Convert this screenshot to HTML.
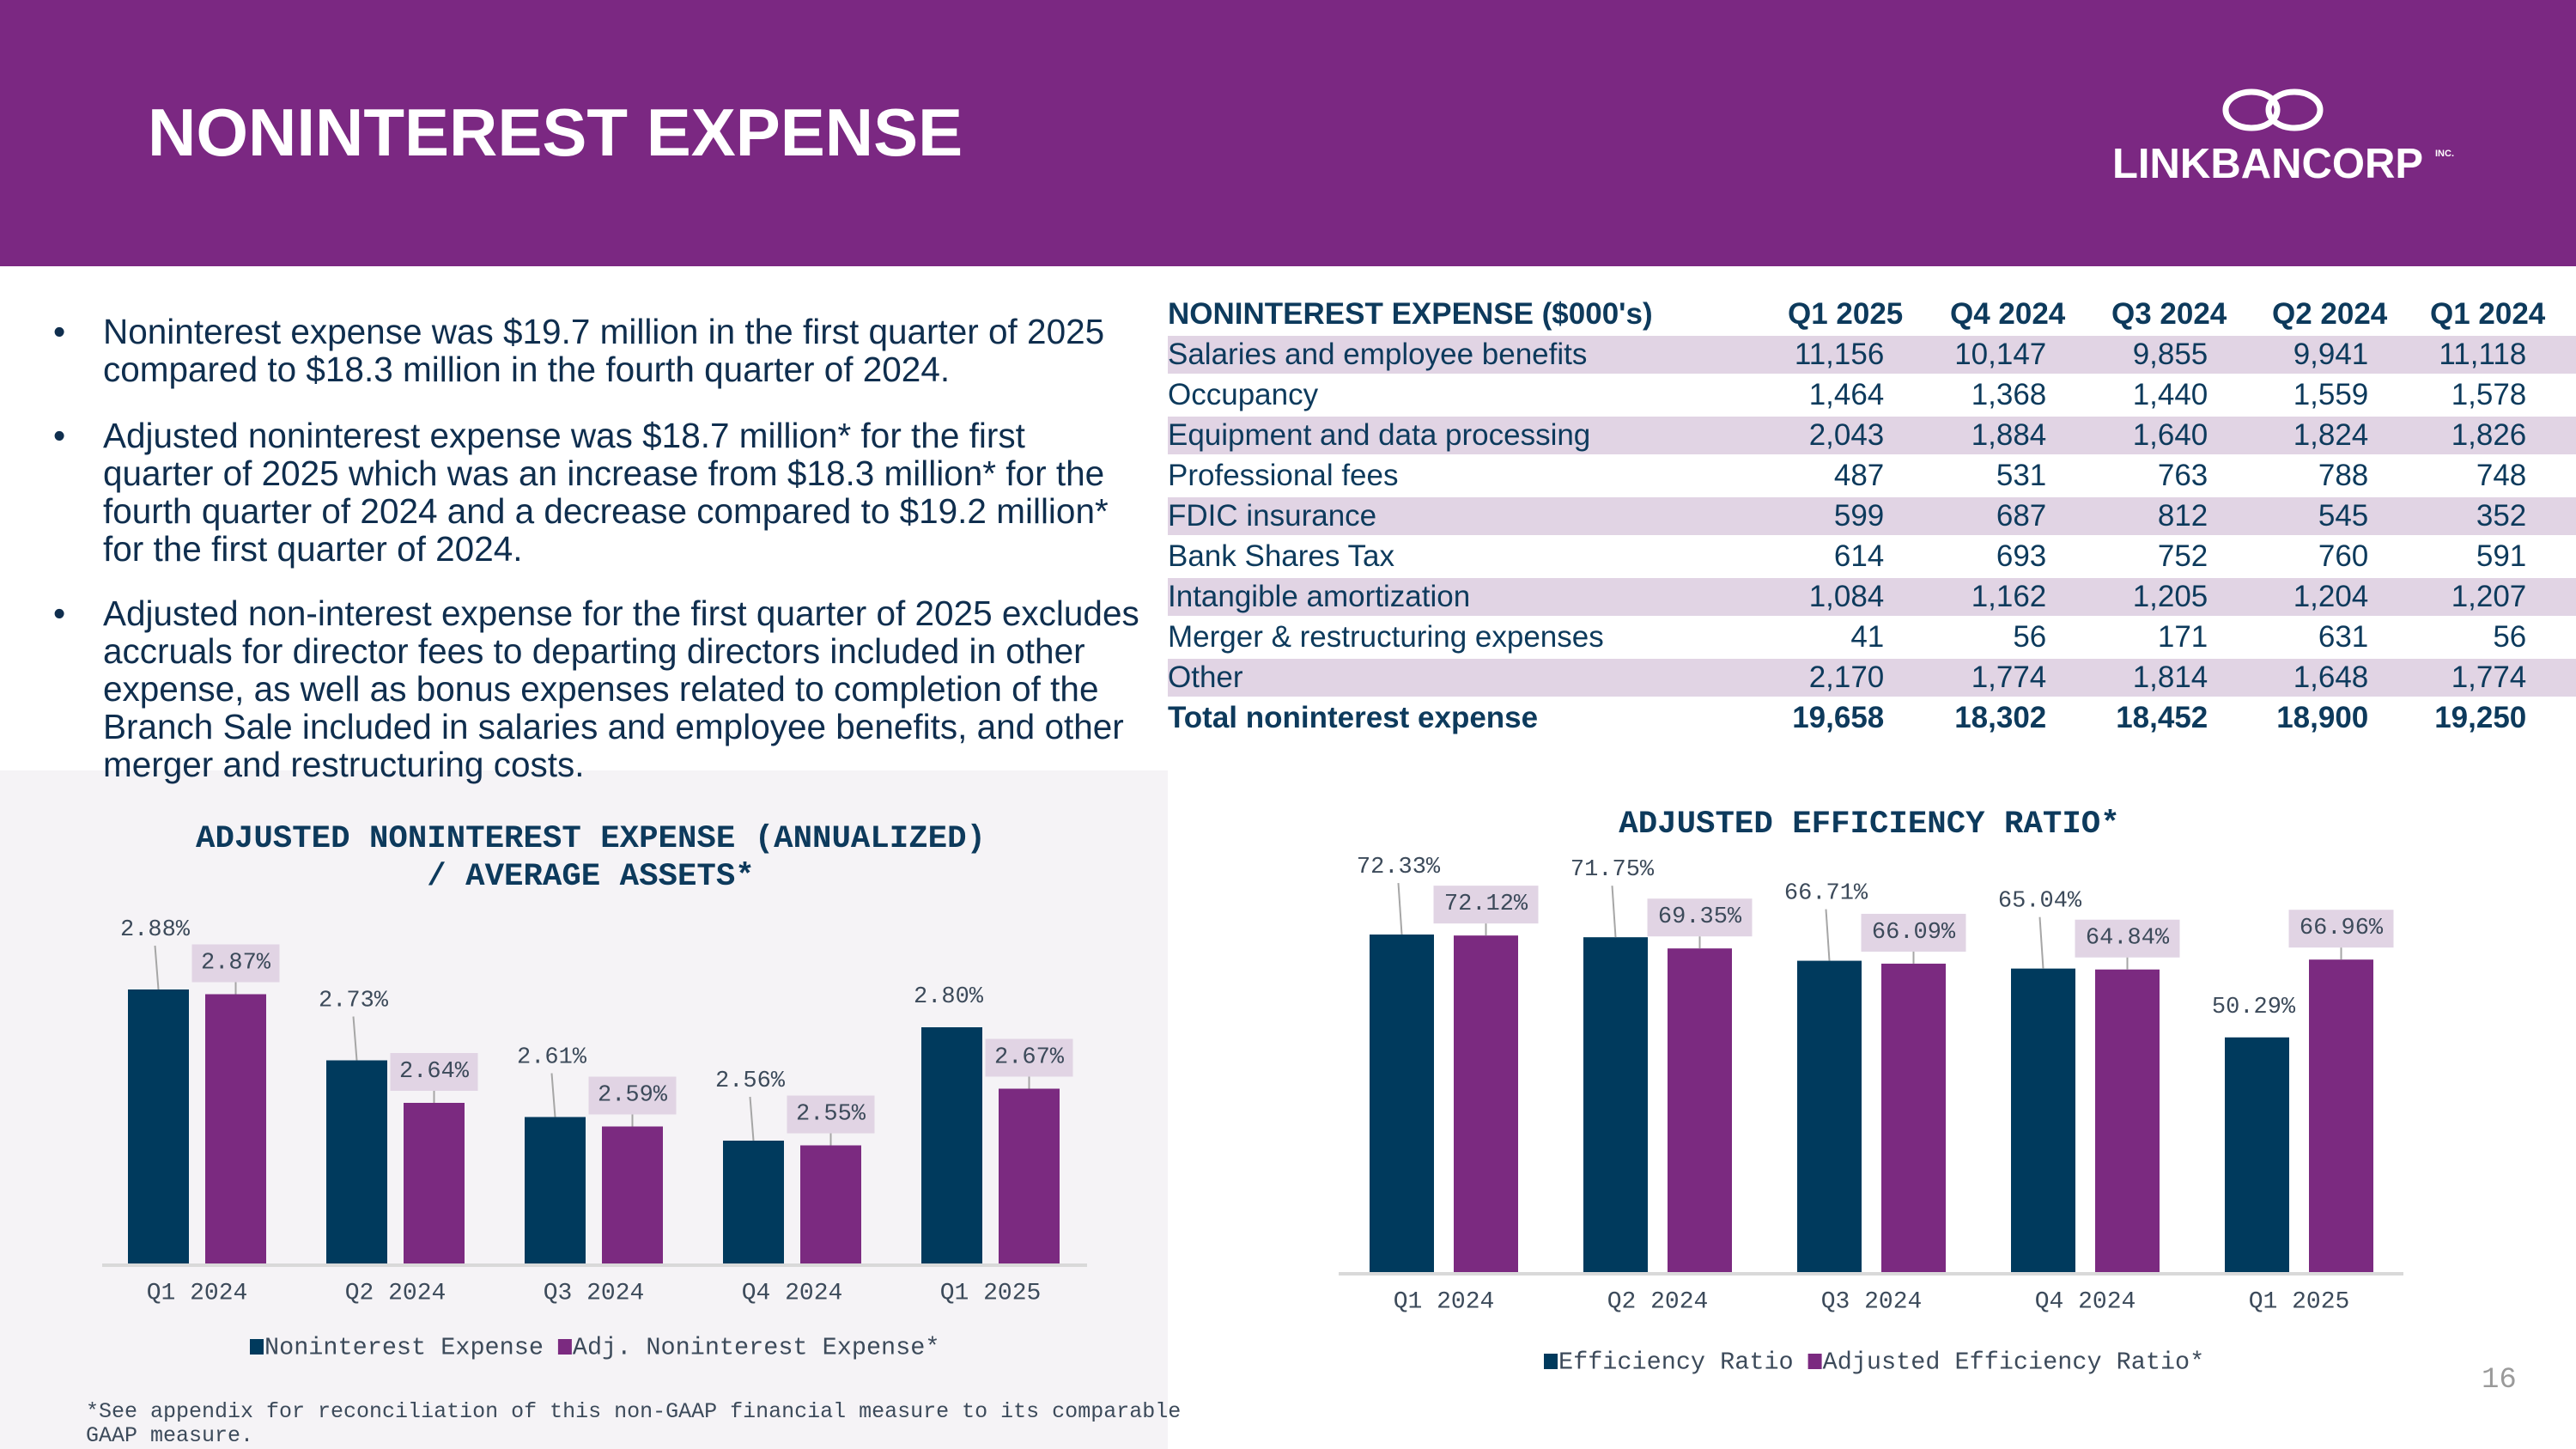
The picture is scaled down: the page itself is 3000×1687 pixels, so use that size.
<!DOCTYPE html>
<html><head><meta charset="utf-8">
<style>
html,body{margin:0;padding:0}
body{width:3000px;height:1687px;position:relative;overflow:hidden;background:#fff;font-family:"Liberation Sans",sans-serif}
#hdr{position:absolute;left:0;top:0;width:3000px;height:310px;background:#7B2882}
#title{position:absolute;left:172px;top:108px;font-size:78px;font-weight:bold;color:#fff;line-height:92px}
#panel{position:absolute;left:0;top:897px;width:1360px;height:790px;background:#F5F3F6}
.bul{position:absolute;left:62px;font-size:40.5px;color:#0F2E4E;line-height:44px}
.bul .dot{position:absolute;left:0;top:0}
.bul .txt{position:absolute;left:58px;top:0;white-space:nowrap}
table{position:absolute;left:1360px;top:344px;width:1640px;border-collapse:collapse;font-family:"Liberation Sans",sans-serif;color:#0D3A5C;font-size:35px}
td{height:44px;padding:0;border-top:3px solid #fff;line-height:40px;white-space:nowrap}
td.n{text-align:right}
tr.s td{background:#E1D4E4}
tr.h td{font-weight:bold;border-top:none;font-size:35px}
tr.h td.n span{position:relative;left:22px}
tr.t td{font-weight:bold}
svg{position:absolute;left:0;top:0}
</style></head>
<body>
<div id="hdr"></div>
<div id="title">NONINTEREST EXPENSE</div>
<svg width="3000" height="320">
<ellipse cx="2622" cy="128" rx="30" ry="21" fill="none" stroke="#fff" stroke-width="7"/>
<ellipse cx="2672" cy="128" rx="30" ry="21" fill="none" stroke="#fff" stroke-width="7"/>
<text x="2460" y="207" font-family="Liberation Sans" font-weight="bold" font-size="49" fill="#fff">LINKBANCORP</text>
<text x="2836" y="182" font-family="Liberation Sans" font-weight="bold" font-size="11" fill="#fff">INC.</text>
</svg>
<div id="panel"></div>

<div class="bul" style="top:364px"><span class="dot">•</span><span class="txt">Noninterest expense was $19.7 million in the first quarter of 2025<br>compared to $18.3 million in the fourth quarter of 2024.</span></div>
<div class="bul" style="top:485px"><span class="dot">•</span><span class="txt">Adjusted noninterest expense was $18.7 million* for the first<br>quarter of 2025 which was an increase from $18.3 million* for the<br>fourth quarter of 2024 and a decrease compared to $19.2 million*<br>for the first quarter of 2024.</span></div>
<div class="bul" style="top:692px"><span class="dot">•</span><span class="txt">Adjusted non-interest expense for the first quarter of 2025 excludes<br>accruals for director fees to departing directors included in other<br>expense, as well as bonus expenses related to completion of the<br>Branch Sale included in salaries and employee benefits, and other<br>merger and restructuring costs.</span></div>

<table>
<colgroup><col style="width:700px"><col style="width:117px"><col style="width:189px"><col style="width:188px"><col style="width:187px"><col style="width:184px"><col></colgroup>
<tr class="h"><td>NONINTEREST EXPENSE ($000's)</td><td class="n"><span>Q1 2025</span></td><td class="n"><span>Q4 2024</span></td><td class="n"><span>Q3 2024</span></td><td class="n"><span>Q2 2024</span></td><td class="n"><span>Q1 2024</span></td><td></td></tr>
<tr class="s"><td>Salaries and employee benefits</td><td class="n">11,156</td><td class="n">10,147</td><td class="n">9,855</td><td class="n">9,941</td><td class="n">11,118</td><td></td></tr>
<tr><td>Occupancy</td><td class="n">1,464</td><td class="n">1,368</td><td class="n">1,440</td><td class="n">1,559</td><td class="n">1,578</td><td></td></tr>
<tr class="s"><td>Equipment and data processing</td><td class="n">2,043</td><td class="n">1,884</td><td class="n">1,640</td><td class="n">1,824</td><td class="n">1,826</td><td></td></tr>
<tr><td>Professional fees</td><td class="n">487</td><td class="n">531</td><td class="n">763</td><td class="n">788</td><td class="n">748</td><td></td></tr>
<tr class="s"><td>FDIC insurance</td><td class="n">599</td><td class="n">687</td><td class="n">812</td><td class="n">545</td><td class="n">352</td><td></td></tr>
<tr><td>Bank Shares Tax</td><td class="n">614</td><td class="n">693</td><td class="n">752</td><td class="n">760</td><td class="n">591</td><td></td></tr>
<tr class="s"><td>Intangible amortization</td><td class="n">1,084</td><td class="n">1,162</td><td class="n">1,205</td><td class="n">1,204</td><td class="n">1,207</td><td></td></tr>
<tr><td>Merger &amp; restructuring expenses</td><td class="n">41</td><td class="n">56</td><td class="n">171</td><td class="n">631</td><td class="n">56</td><td></td></tr>
<tr class="s"><td>Other</td><td class="n">2,170</td><td class="n">1,774</td><td class="n">1,814</td><td class="n">1,648</td><td class="n">1,774</td><td></td></tr>
<tr class="t"><td>Total noninterest expense</td><td class="n">19,658</td><td class="n">18,302</td><td class="n">18,452</td><td class="n">18,900</td><td class="n">19,250</td><td></td></tr>
</table>

<svg id="charts" width="3000" height="1687"></svg>

<div style="position:absolute;left:100px;top:1630px;font-family:'Liberation Mono',monospace;font-size:25px;line-height:28px;color:#3C4A5A;white-space:nowrap">*See appendix for reconciliation of this non-GAAP financial measure to its comparable<br>GAAP measure.</div>
<div style="position:absolute;left:2890px;top:1588px;font-family:'Liberation Mono',monospace;font-size:34px;color:#9A9A9A">16</div>

<script>
const categories = ["Q1 2024","Q2 2024","Q3 2024","Q4 2024","Q1 2025"];
const expenseRatio = [2.88, 2.73, 2.61, 2.56, 2.80];
const adjExpenseRatio = [2.87, 2.64, 2.59, 2.55, 2.67];
const efficiency = [72.33, 71.75, 66.71, 65.04, 50.29];
const adjEfficiency = [72.12, 69.35, 66.09, 64.84, 66.96];
const leftLegend = ["Noninterest Expense","Adj. Noninterest Expense*"];
const rightLegend = ["Efficiency Ratio","Adjusted Efficiency Ratio*"];

const NS = "http://www.w3.org/2000/svg";
const svg = document.getElementById("charts");
const NAVY = "#003A5D", PURP = "#7B2A80", TXT = "#3C4A5A";
function mk(tag, attrs, parent){
  const e = document.createElementNS(NS, tag);
  for (const k in attrs) e.setAttribute(k, attrs[k]);
  (parent||svg).appendChild(e);
  return e;
}
function txt(x,y,s,size,anchor,extra){
  const t = mk("text",Object.assign({x:x,y:y,"font-family":"Liberation Mono, monospace","font-size":size,fill:TXT,"text-anchor":anchor||"middle","dominant-baseline":"central"},extra||{}));
  t.textContent = s;
  return t;
}
function drawChart(cfg){
  const y = v => cfg.axisY - (v - cfg.min) * cfg.pxPer;
  const xg = i => cfg.x0 + i * cfg.step;
  mk("line",{x1:cfg.axL,x2:cfg.axR,y1:cfg.axisY+2,y2:cfg.axisY+2,stroke:"#D9D9D9","stroke-width":4});
  categories.forEach((c,i)=>{
    const nx = xg(i), px = nx + cfg.bw + cfg.gap;
    const a = cfg.s1[i], b = cfg.s2[i];
    const r1 = mk("rect",{x:nx,y:y(a),width:cfg.bw,height:cfg.axisY-y(a),fill:NAVY});
    
    
    const r2 = mk("rect",{x:px,y:y(b),width:cfg.bw,height:cfg.axisY-y(b),fill:PURP});
    
    
    const last = i === categories.length - 1;
    const off = last ? 35 : cfg.navyOff;
    const lbl1 = txt(nx + cfg.bw/2 - 4, y(a) - off, a.toFixed(2) + "%", 27);
    
    
    if (!last) mk("line",{x1:nx+cfg.bw/2-4,y1:y(a)-off+18,x2:nx+cfg.bw/2,y2:y(a),stroke:"#A6A6A6","stroke-width":2});
    const cy = y(b) - 36;
    const bxw = cfg.boxW;
    mk("rect",{x:px+cfg.bw/2-bxw/2,y:cy-22,width:bxw,height:44,fill:"#E1D4E4"});
    mk("line",{x1:px+cfg.bw/2,y1:cy+22,x2:px+cfg.bw/2,y2:y(b),stroke:"#A6A6A6","stroke-width":2});
    const lbl2 = txt(px + cfg.bw/2, cy, b.toFixed(2) + "%", 27);
    
    
    const cl = txt(nx + cfg.bw + cfg.gap/2, cfg.catY, c, 28);
    
    
  });
  let lx = cfg.legX;
  cfg.legend.forEach((s,i)=>{
    mk("rect",{x:lx,y:cfg.legY-10,width:16,height:18,fill:i?PURP:NAVY});
    const t = txt(lx+17, cfg.legY, s, 28.5, "start");
    
    
    lx += 17 + s.length*17.1 + 17;
  });
  cfg.title.forEach((s,i)=>{
    const t = txt(cfg.titleX, cfg.titleY + i*44, s, 37.4, "middle", {"font-weight":"bold",fill:"#0D3A5C"});
    
    
  });
}
drawChart({id:"expense",s1:expenseRatio,s2:adjExpenseRatio,min:2.3,pxPer:550,axisY:1471,axL:119,axR:1266,
  x0:149,step:231,bw:71,gap:19,boxW:102,navyOff:69,catY:1506,legX:291,legY:1569,legend:leftLegend,
  title:["ADJUSTED NONINTEREST EXPENSE (ANNUALIZED)","/ AVERAGE ASSETS*"],titleX:688,titleY:977});
drawChart({id:"efficiency",s1:efficiency,s2:adjEfficiency,min:0,pxPer:5.433,axisY:1481,axL:1559,axR:2799,
  x0:1595,step:249,bw:75,gap:23,boxW:122,navyOff:78,catY:1516,legX:1798,legY:1586,legend:rightLegend,
  title:["ADJUSTED EFFICIENCY RATIO*"],titleX:2177,titleY:960});
</script>
</body></html>
